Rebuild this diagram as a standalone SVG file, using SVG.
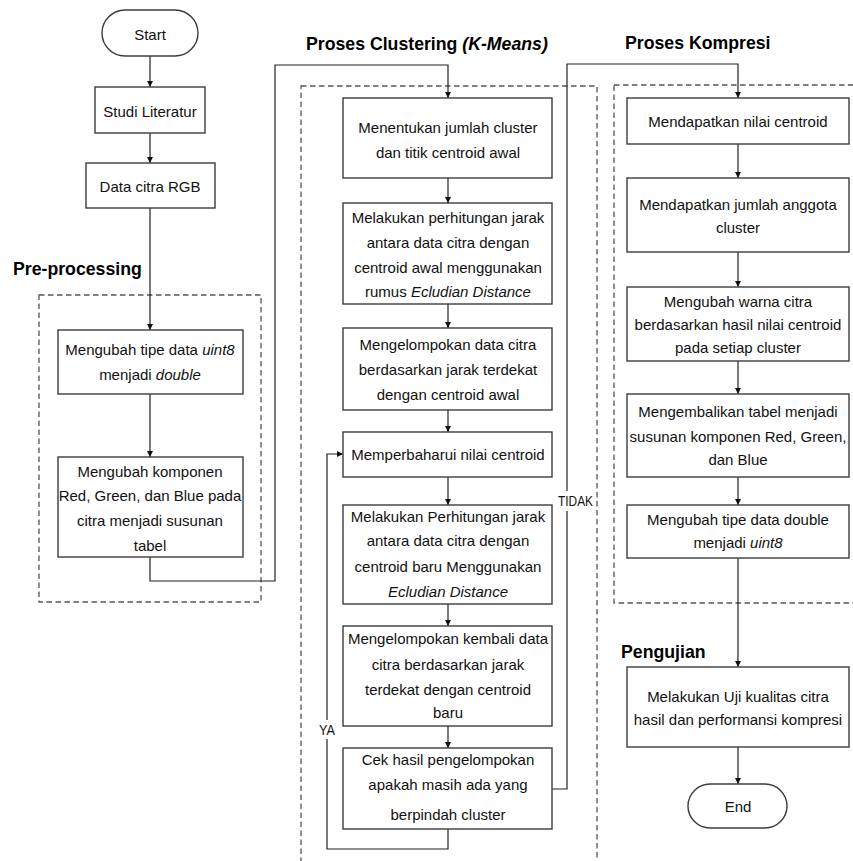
<svg xmlns="http://www.w3.org/2000/svg" width="853" height="861" viewBox="0 0 853 861">
<style>
.bx{fill:#fff;stroke:#3c3c3c;stroke-width:1.4}
.ds{fill:none;stroke:#555;stroke-width:1.3;stroke-dasharray:5.5 3.5}
.cn{fill:none;stroke:#222;stroke-width:1.2}
.t{font-family:"Liberation Sans",Arial,sans-serif;font-size:15px;fill:#111;text-anchor:middle}
.h{font-family:"Liberation Sans",Arial,sans-serif;font-size:17.7px;font-weight:bold;fill:#000}
.lb{font-family:"Liberation Sans",Arial,sans-serif;font-size:14px;fill:#111}
.i{font-style:italic}
</style>
<defs>
<marker id="ar" viewBox="0 0 10 10" refX="10" refY="5" markerWidth="6" markerHeight="6" markerUnits="userSpaceOnUse" orient="auto">
<path d="M0,0 L10,5 L0,10 z" fill="#111"/>
</marker>
</defs>
<rect width="853" height="861" fill="#fff"/>

<g id="frames">
<rect class="ds" x="39" y="295" width="222" height="307"/>
<rect class="ds" x="301" y="86" width="296" height="790"/>
<rect class="ds" x="614" y="85" width="250" height="518"/>
</g>

<g id="headings">
<text class="h" x="13" y="275">Pre-processing</text>
<text class="h" x="306" y="50">Proses Clustering <tspan class="i">(K-Means)</tspan></text>
<text class="h" x="625" y="49">Proses Kompresi</text>
<text class="h" x="621" y="658">Pengujian</text>
</g>

<g id="connectors">
<path class="cn" d="M150,56 V87" marker-end="url(#ar)"/>
<path class="cn" d="M150,133 V163" marker-end="url(#ar)"/>
<path class="cn" d="M150,208 V330" marker-end="url(#ar)"/>
<path class="cn" d="M150,394 V457" marker-end="url(#ar)"/>
<path class="cn" d="M150,557 V581 H275 V65 H448 V98" marker-end="url(#ar)"/>
<path class="cn" d="M448,178 V203" marker-end="url(#ar)"/>
<path class="cn" d="M448,304 V328" marker-end="url(#ar)"/>
<path class="cn" d="M448,410 V432" marker-end="url(#ar)"/>
<path class="cn" d="M448,477 V505" marker-end="url(#ar)"/>
<path class="cn" d="M448,604 V626" marker-end="url(#ar)"/>
<path class="cn" d="M448,726 V748" marker-end="url(#ar)"/>
<path class="cn" d="M448,829 V849 H327 V454 H343" marker-end="url(#ar)"/>
<path class="cn" d="M552,789 H567 V64 H738 V98" marker-end="url(#ar)"/>
<path class="cn" d="M738,144 V178" marker-end="url(#ar)"/>
<path class="cn" d="M738,252 V287" marker-end="url(#ar)"/>
<path class="cn" d="M738,361 V394" marker-end="url(#ar)"/>
<path class="cn" d="M738,477 V505" marker-end="url(#ar)"/>
<path class="cn" d="M738,558 V667" marker-end="url(#ar)"/>
<path class="cn" d="M738,747 V784" marker-end="url(#ar)"/>
<rect x="316" y="720" width="22" height="19" fill="#fff"/>
<text class="lb" x="319" y="735" textLength="16" lengthAdjust="spacingAndGlyphs">YA</text>
<rect x="556" y="491" width="39" height="20" fill="#fff"/>
<text class="lb" x="558" y="506" textLength="35" lengthAdjust="spacingAndGlyphs">TIDAK</text>
</g>

<g id="start">
<rect class="bx" x="102" y="10" width="96" height="46" rx="23"/>
<text class="t" x="150" y="40">Start</text>
</g>
<g id="studi">
<rect class="bx" x="95" y="87" width="110" height="46"/>
<text class="t" x="150" y="117">Studi Literatur</text>
</g>
<g id="data">
<rect class="bx" x="86" y="163" width="129" height="45"/>
<text class="t" x="150" y="192">Data citra RGB</text>
</g>
<g id="pre1">
<rect class="bx" x="58" y="330" width="185" height="64"/>
<text class="t" x="150" y="355">Mengubah tipe data <tspan class="i">uint8</tspan></text>
<text class="t" x="150" y="380">menjadi <tspan class="i">double</tspan></text>
</g>
<g id="pre2">
<rect class="bx" x="58" y="457" width="185" height="100"/>
<text class="t" x="150" y="477">Mengubah komponen</text>
<text class="t" x="150" y="501">Red, Green, dan Blue pada</text>
<text class="t" x="150" y="526">citra menjadi susunan</text>
<text class="t" x="150" y="551">tabel</text>
</g>

<g id="k1">
<rect class="bx" x="343" y="98" width="209" height="80"/>
<text class="t" x="448" y="133">Menentukan jumlah cluster</text>
<text class="t" x="448" y="158">dan titik centroid awal</text>
</g>
<g id="k2">
<rect class="bx" x="343" y="203" width="209" height="101"/>
<text class="t" x="448" y="223">Melakukan perhitungan jarak</text>
<text class="t" x="448" y="248">antara data citra dengan</text>
<text class="t" x="448" y="273">centroid awal menggunakan</text>
<text class="t" x="448" y="297">rumus <tspan class="i">Ecludian Distance</tspan></text>
</g>
<g id="k3">
<rect class="bx" x="343" y="328" width="209" height="82"/>
<text class="t" x="448" y="350">Mengelompokan data citra</text>
<text class="t" x="448" y="375">berdasarkan jarak terdekat</text>
<text class="t" x="448" y="400">dengan centroid awal</text>
</g>
<g id="k4">
<rect class="bx" x="343" y="432" width="209" height="45"/>
<text class="t" x="448" y="460">Memperbaharui nilai centroid</text>
</g>
<g id="k5">
<rect class="bx" x="343" y="505" width="209" height="99"/>
<text class="t" x="448" y="522">Melakukan Perhitungan jarak</text>
<text class="t" x="448" y="546">antara data citra dengan</text>
<text class="t" x="448" y="572">centroid baru Menggunakan</text>
<text class="t" x="448" y="597"><tspan class="i">Ecludian Distance</tspan></text>
</g>
<g id="k6">
<rect class="bx" x="343" y="626" width="209" height="100"/>
<text class="t" x="448" y="644">Mengelompokan kembali data</text>
<text class="t" x="448" y="670">citra berdasarkan jarak</text>
<text class="t" x="448" y="695">terdekat dengan centroid</text>
<text class="t" x="448" y="718">baru</text>
</g>
<g id="k7">
<rect class="bx" x="343" y="748" width="209" height="81"/>
<text class="t" x="448" y="765">Cek hasil pengelompokan</text>
<text class="t" x="448" y="790">apakah masih ada yang</text>
<text class="t" x="448" y="820">berpindah cluster</text>
</g>

<g id="r1">
<rect class="bx" x="627" y="98" width="222" height="46"/>
<text class="t" x="738" y="127">Mendapatkan nilai centroid</text>
</g>
<g id="r2">
<rect class="bx" x="627" y="178" width="222" height="74"/>
<text class="t" x="738" y="210">Mendapatkan jumlah anggota</text>
<text class="t" x="738" y="233">cluster</text>
</g>
<g id="r3">
<rect class="bx" x="627" y="287" width="222" height="74"/>
<text class="t" x="738" y="307">Mengubah warna citra</text>
<text class="t" x="738" y="330">berdasarkan hasil nilai centroid</text>
<text class="t" x="738" y="353">pada setiap cluster</text>
</g>
<g id="r4">
<rect class="bx" x="627" y="394" width="222" height="83"/>
<text class="t" x="738" y="417">Mengembalikan tabel menjadi</text>
<text class="t" x="738" y="442">susunan komponen Red, Green,</text>
<text class="t" x="738" y="465">dan Blue</text>
</g>
<g id="r5">
<rect class="bx" x="627" y="505" width="222" height="53"/>
<text class="t" x="738" y="525">Mengubah tipe data double</text>
<text class="t" x="738" y="548">menjadi <tspan class="i">uint8</tspan></text>
</g>
<g id="uji">
<rect class="bx" x="627" y="667" width="222" height="80"/>
<text class="t" x="738" y="702">Melakukan Uji kualitas citra</text>
<text class="t" x="738" y="725">hasil dan performansi kompresi</text>
</g>
<g id="end">
<rect class="bx" x="688" y="784" width="99" height="44" rx="22"/>
<text class="t" x="738" y="812">End</text>
</g>
</svg>
